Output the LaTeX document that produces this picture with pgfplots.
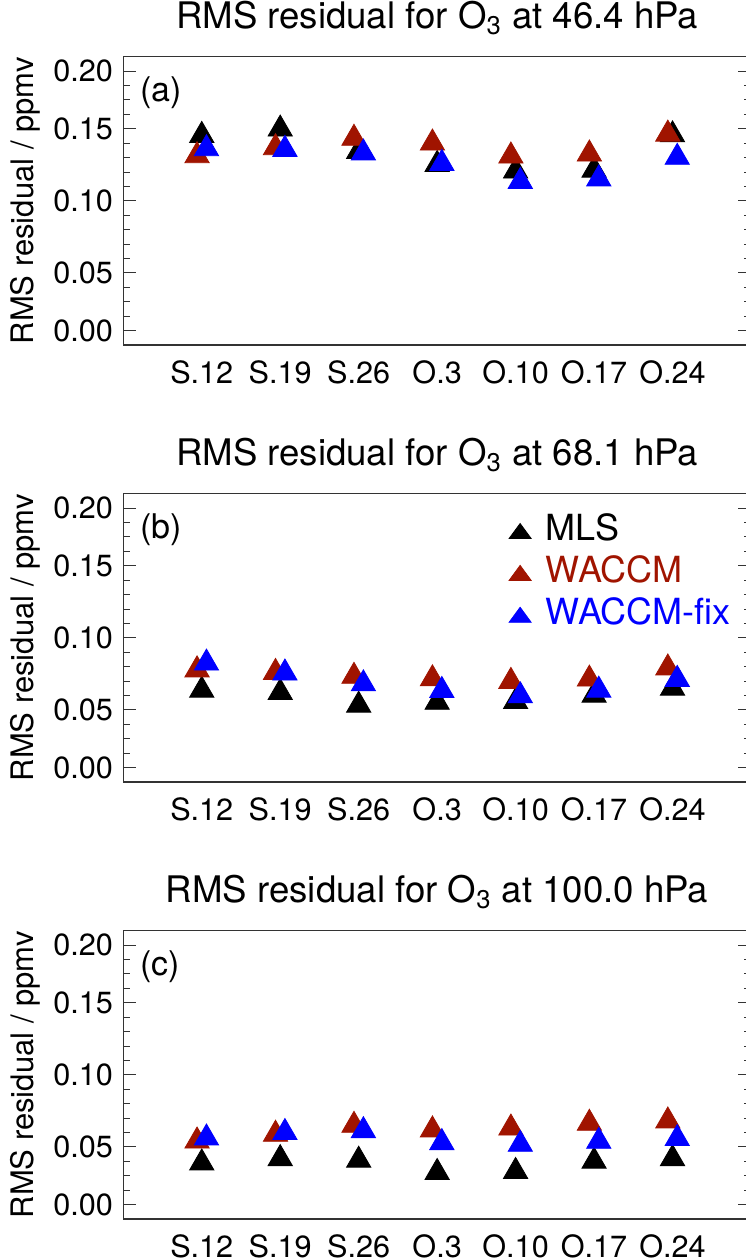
\documentclass[border=0pt]{standalone}
\usepackage{pgfplots}
\pgfplotsset{compat=1.18}
\usepackage{pgfplotstable}
\usepackage{fontspec}
\setmainfont{TeX Gyre Heros}
\definecolor{wred}{RGB}{160,20,0}
\definecolor{wblue}{RGB}{0,0,255}

\pgfplotstableread{
x mls waccm fix
1 0.1454 0.1313 0.1362
2 0.1498 0.1369 0.1357
3 0.1343 0.1434 0.1332
4 0.1253 0.1401 0.1260
5 0.1207 0.1311 0.1135
6 0.1213 0.1325 0.1152
7 0.1458 0.1463 0.1302
}\dataA
\pgfplotstableread{
x mls waccm fix
1 0.0637 0.0778 0.0825
2 0.0621 0.0760 0.0756
3 0.0533 0.0733 0.0681
4 0.0553 0.0716 0.0635
5 0.0558 0.0698 0.0598
6 0.0602 0.0714 0.0637
7 0.0651 0.0791 0.0712
}\dataB
\pgfplotstableread{
x mls waccm fix
1 0.0389 0.0541 0.0562
2 0.0419 0.0588 0.0600
3 0.0408 0.0650 0.0613
4 0.0323 0.0618 0.0530
5 0.0330 0.0631 0.0518
6 0.0401 0.0664 0.0539
7 0.0419 0.0680 0.0558
}\dataC

\pgfplotsset{
  panel/.style={
    width=313.85pt, height=144.15pt, scale only axis,
    xmin=0, xmax=8, ymin=0, ymax=0.2,
    xtick={1,...,7}, xticklabels={S.12,S.19,S.26,O.3,O.10,O.17,O.24},
    minor xtick={1,...,7},
    ytick={0.01,0.05,0.10,0.15,0.19},
    yticklabels={0.00,0.05,0.10,0.15,0.20},
    minor ytick={0.02,0.03,0.04,0.06,0.07,0.08,0.09,0.11,0.12,0.13,0.14,0.16,0.17,0.18},
    tick align=inside, major tick length=6.35pt, minor tick length=3.35pt,
    tick style={black!80, line width=0.5pt},
    xtick style={draw=none},
    axis line style={black!80, line width=0.6pt},
    ticklabel style={font=\fontsize{15.3}{18}\selectfont},
    xticklabel style={inner sep=0pt, yshift=-7.85pt, anchor=north},
    yticklabel style={inner sep=0pt, xshift=-5pt, anchor=east},
    /pgf/number format/assume math mode=true,
    title style={at={(0.5,1)}, anchor=base, yshift=8.3pt, font=\fontsize{18.3}{21}\selectfont},
    ylabel={RMS residual / ppmv},
    ylabel style={at={(axis description cs:-0.1434,0.5)}, anchor=base, font=\fontsize{15.5}{18}\selectfont},
  },
  mls/.style={only marks, mark=triangle*, mark size=7pt, black, mark options={draw=none, fill=black},
    legend image code/.code={\fill[black] (-5.5pt,-4.75pt) -- (5.5pt,-4.75pt) -- (0pt,2.75pt) -- cycle;}},
  waccm/.style={only marks, mark=triangle*, mark size=7pt, wred, mark options={draw=none, fill=wred},
    legend image code/.code={\fill[wred] (-5.5pt,-4.75pt) -- (5.5pt,-4.75pt) -- (0pt,2.75pt) -- cycle;}},
  wfix/.style={only marks, mark=triangle*, mark size=7pt, wblue, mark options={draw=none, fill=wblue},
    legend image code/.code={\fill[wblue] (-5.5pt,-4.75pt) -- (5.5pt,-4.75pt) -- (0pt,2.75pt) -- cycle;}},
}
\newcommand{\plab}[1]{\node[anchor=base west, inner sep=0pt, xshift=8.35pt, yshift=-22.5pt, font=\fontsize{17}{20}\selectfont] at (rel axis cs:0,1) {#1};}

\begin{document}
\begin{tikzpicture}
\begin{axis}[panel, at={(0,0)}, title={RMS residual for O\textsubscript{3} at 46.4 hPa}]
\addplot[mls] table[x=x, y=mls]{\dataA};
\addplot[waccm] table[x expr=\thisrow{x}-0.06, y=waccm]{\dataA};
\addplot[wfix] table[x expr=\thisrow{x}+0.06, y=fix]{\dataA};
\plab{(a)}
\end{axis}
\begin{axis}[panel, at={(0,-218.5pt)}, title={RMS residual for O\textsubscript{3} at 68.1 hPa},
  legend style={at={(0.6134,0.9308)}, anchor=north west, draw=none, fill=none,
    font=\fontsize{18}{21}\selectfont, inner sep=0pt, row sep=6pt, column sep=7.15pt,
    nodes={inner sep=0pt}},
  legend cell align=left]
\addplot[mls] table[x=x, y=mls]{\dataB};
\addlegendentry{MLS}
\addplot[waccm] table[x expr=\thisrow{x}-0.06, y=waccm]{\dataB};
\addlegendentry{\textcolor{wred}{WACCM}}
\addplot[wfix] table[x expr=\thisrow{x}+0.06, y=fix]{\dataB};
\addlegendentry{\textcolor{wblue}{WACCM-fix}}
\plab{(b)}
\end{axis}
\begin{axis}[panel, at={(0,-437pt)}, title={RMS residual for O\textsubscript{3} at 100.0 hPa}]
\addplot[mls] table[x=x, y=mls]{\dataC};
\addplot[waccm] table[x expr=\thisrow{x}-0.06, y=waccm]{\dataC};
\addplot[wfix] table[x expr=\thisrow{x}+0.06, y=fix]{\dataC};
\plab{(c)}
\end{axis}
\pgfresetboundingbox
\path[use as bounding box] (-61.65pt,-456.5pt) rectangle (310.85pt,172.5pt);
\end{tikzpicture}
\end{document}
